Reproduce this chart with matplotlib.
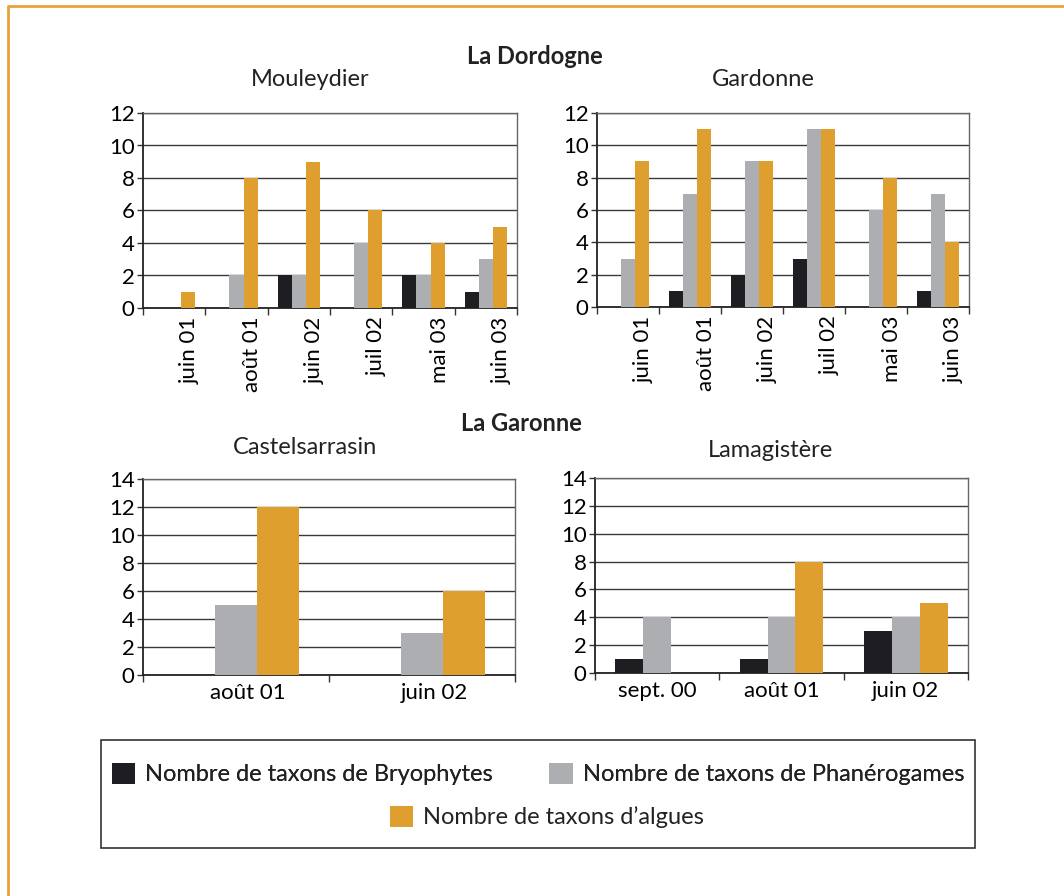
import matplotlib
matplotlib.use("Agg")
import matplotlib.pyplot as plt
import matplotlib.transforms as mtransforms
from matplotlib.patches import Rectangle
from matplotlib.lines import Line2D
import numpy as np

plt.rcParams['font.family'] = ['Lato', 'DejaVu Sans']

# Data
series_names = ["Nombre de taxons de Bryophytes",
                "Nombre de taxons de Phanérogames",
                "Nombre de taxons d\u2019algues"]
colors = ["#1e1e22", "#adaeb1", "#df9f2e"]

dordogne_dates = ["juin 01", "août 01", "juin 02", "juil 02", "mai 03", "juin 03"]
mouleydier_bryo = [0, 0, 2, 0, 2, 1]
mouleydier_phan = [0, 2, 2, 4, 2, 3]
mouleydier_alg = [1, 8, 9, 6, 4, 5]
gardonne_bryo = [0, 1, 2, 3, 0, 1]
gardonne_phan = [3, 7, 9, 11, 6, 7]
gardonne_alg = [9, 11, 9, 11, 8, 4]

castel_dates = ["août 01", "juin 02"]
castel_bryo = [0, 0]
castel_phan = [5, 3]
castel_alg = [12, 6]

lamag_dates = ["sept. 00", "août 01", "juin 02"]
lamag_bryo = [1, 1, 3]
lamag_phan = [4, 4, 4]
lamag_alg = [0, 8, 5]

W, H = 1064, 896
fig = plt.figure(figsize=(W / 100, H / 100), dpi=100)


def px_axes(l, t, r, b):
    return fig.add_axes([l / W, 1 - b / H, (r - l) / W, (b - t) / H])


def bar_panel(ax, dates, vals, ymax, rotate, dx):
    x = np.arange(len(dates))
    w = 0.225
    handles = []
    for k, (v, c) in enumerate(zip(vals, colors)):
        handles.append(ax.bar(x + (k - 1) * w, v, w, color=c, zorder=3))
    ax.set_xlim(-0.5, len(dates) - 0.5)
    ax.set_ylim(0, ymax)
    ax.set_yticks(range(0, ymax + 1, 2))
    ax.yaxis.grid(True, color="#3a3a3a", lw=1.0, zorder=1)
    ax.set_axisbelow(True)
    # category boundaries get the tick marks, labels sit in between
    ax.set_xticks(np.arange(-0.5, len(dates)), minor=False)
    ax.set_xticklabels([])
    ax.set_xticks(x, minor=True)
    ax.set_xticklabels(dates, minor=True, rotation=90 if rotate else 0,
                       va="top", ha="center")
    ax.tick_params(axis="x", which="minor", length=0, labelsize=16, pad=6)
    ax.tick_params(axis="x", which="major", length=5, width=1, color="#333333")
    ax.tick_params(axis="y", length=4, width=1, labelsize=16, pad=2,
                   color="#333333")
    off = mtransforms.ScaledTranslation(dx / 100, 0, fig.dpi_scale_trans)
    for lab in ax.get_xticklabels(minor=True):
        lab.set_transform(lab.get_transform() + off)
    for s in ["left", "bottom"]:
        ax.spines[s].set_color("#222222")
        ax.spines[s].set_linewidth(1.3)
    for s in ["top", "right"]:
        ax.spines[s].set_color("#666666")
        ax.spines[s].set_linewidth(1.0)
    return handles


ax1 = px_axes(143, 113, 517, 308)
handles = bar_panel(ax1, dordogne_dates,
                    [mouleydier_bryo, mouleydier_phan, mouleydier_alg], 12, True, 16)
ax2 = px_axes(597, 113, 969, 307)
bar_panel(ax2, dordogne_dates,
          [gardonne_bryo, gardonne_phan, gardonne_alg], 12, True, 16)
ax3 = px_axes(143, 479, 515, 675)
bar_panel(ax3, castel_dates, [castel_bryo, castel_phan, castel_alg], 14, False, 12)
ax4 = px_axes(595, 478, 968, 673)
bar_panel(ax4, lamag_dates, [lamag_bryo, lamag_phan, lamag_alg], 14, False, 0)


def ftext(x, y, s, **kw):
    fig.text(x / W, 1 - y / H, s, ha="center", va="center", color="#222222", **kw)


ftext(535, 57, "La Dordogne", fontsize=17, fontweight="bold")
ftext(310, 80, "Mouleydier", fontsize=17)
ftext(763, 80, "Gardonne", fontsize=17)
ftext(521, 423, "La Garonne", fontsize=17, fontweight="bold")
ftext(305, 447, "Castelsarrasin", fontsize=17)
ftext(771, 450, "Lamagistère", fontsize=17)

# legend: two entries on the first row, one centred below
leg_kw = dict(frameon=False, fontsize=17, handlelength=1.0, handleheight=1.0,
              handletextpad=0.42, columnspacing=2.4, borderpad=0, loc="center")
leg1 = fig.legend(handles[:2], series_names[:2], ncol=2,
                  bbox_to_anchor=(538 / W, 1 - 774 / H), **leg_kw)
fig.add_artist(leg1)
fig.legend(handles[2:], series_names[2:], ncol=1,
           bbox_to_anchor=(547 / W, 1 - 817 / H), **leg_kw)
for leg in fig.legends:
    for t in leg.get_texts():
        t.set_color("#222222")

fig.patches.append(Rectangle((101 / W, 1 - 848 / H), 874 / W, 108 / H,
                             transform=fig.transFigure, fill=False,
                             edgecolor="#333333", lw=1.2))

# orange page frame (top and left edges)
fig.lines.append(Line2D([8 / W, 8 / W, 1.0], [0.0, 1 - 6 / H, 1 - 6 / H],
                        transform=fig.transFigure, color="#e8a23a", lw=2))

fig.savefig("out.png", dpi=100)
